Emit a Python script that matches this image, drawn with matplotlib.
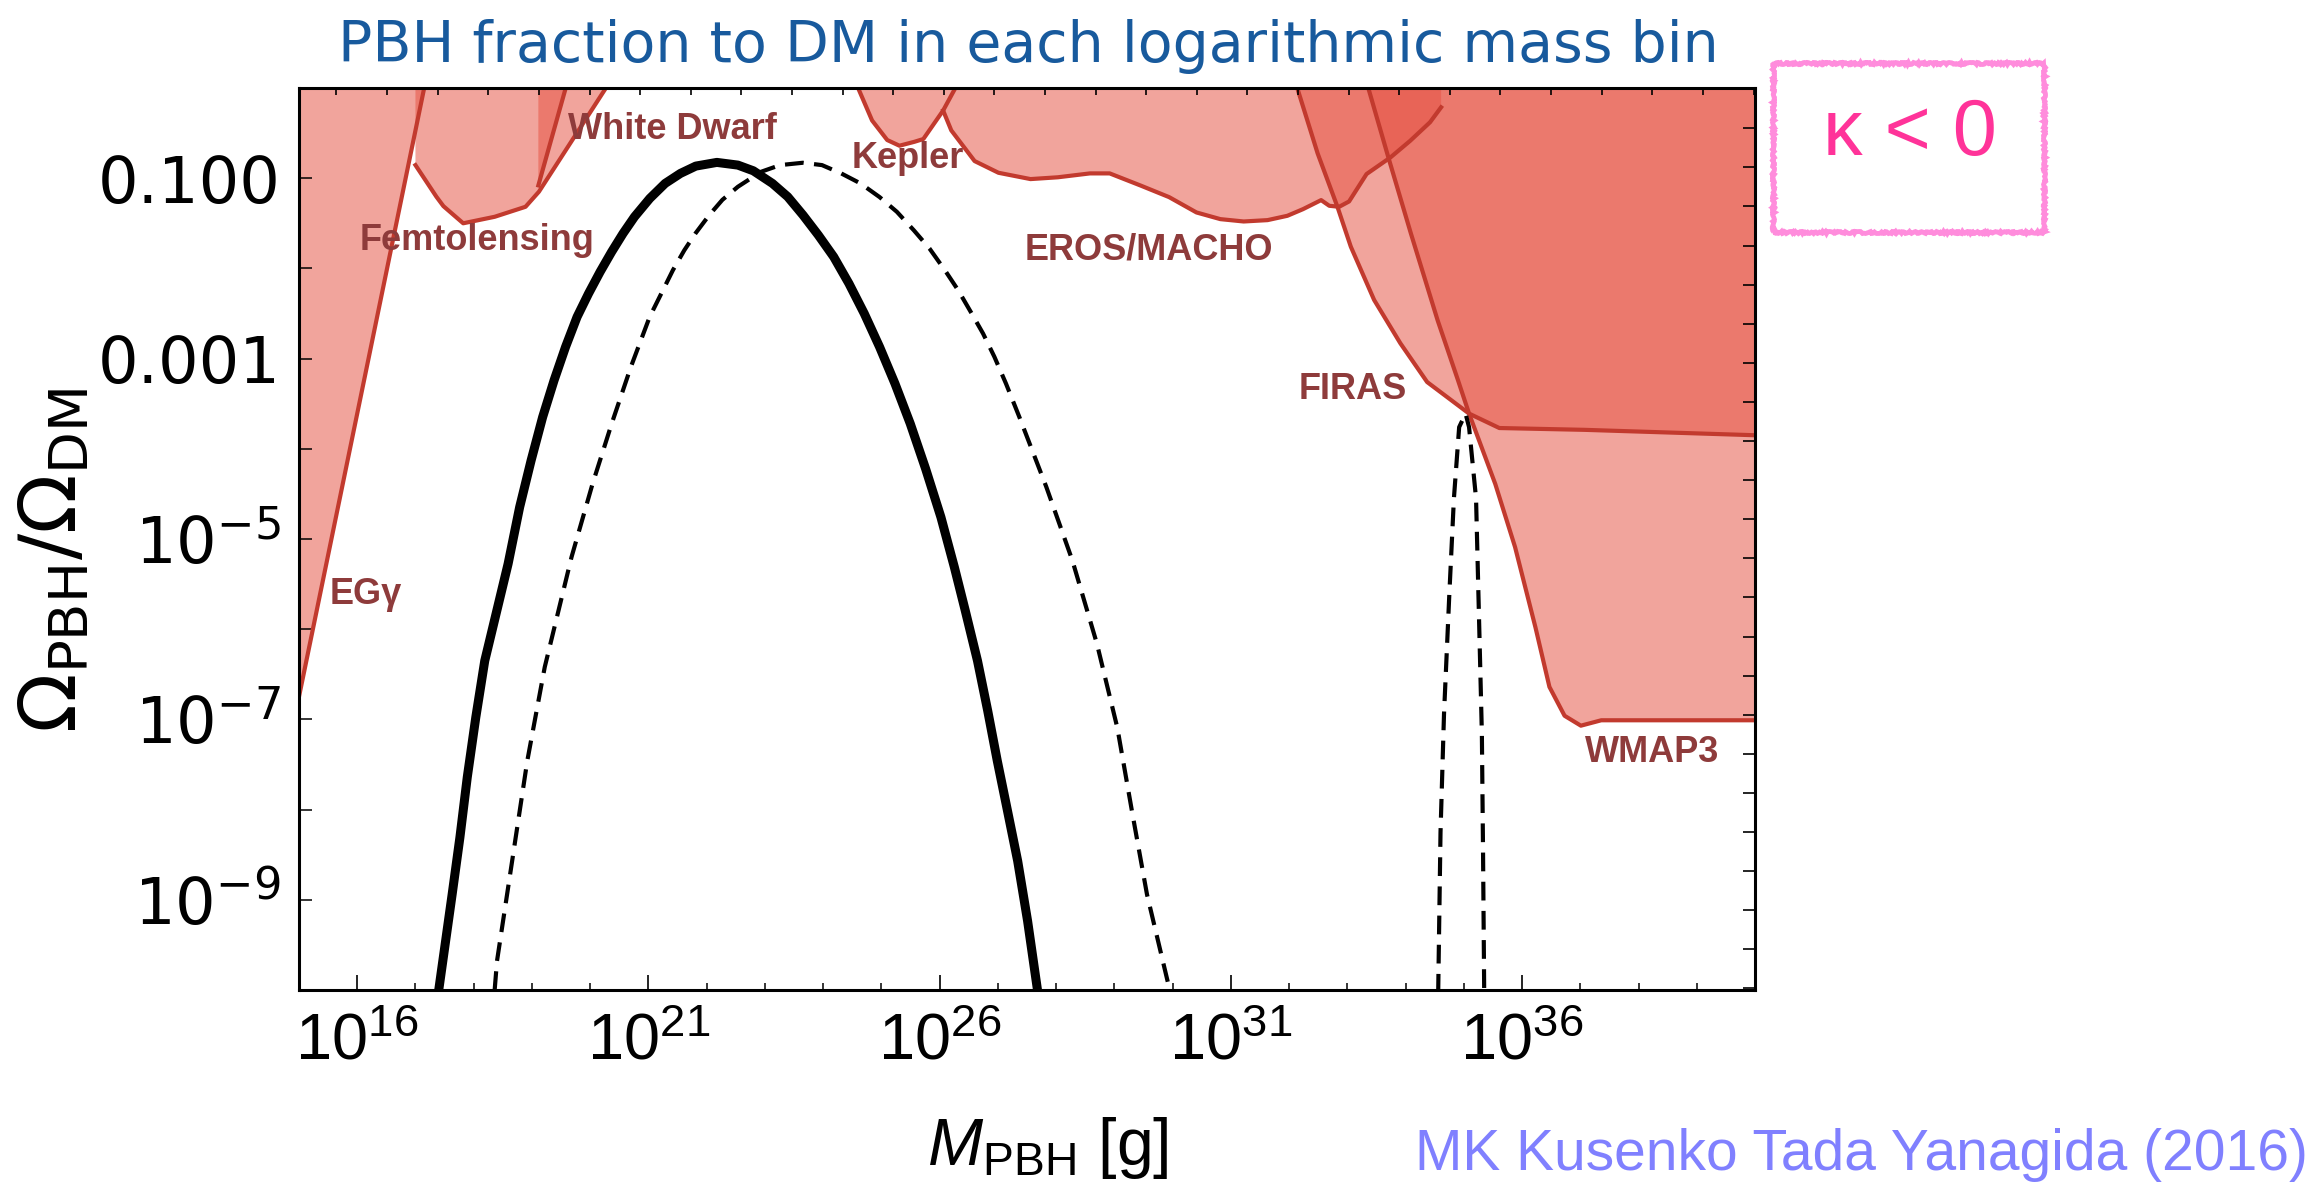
import numpy as np
import matplotlib
matplotlib.use('Agg')
import matplotlib.pyplot as plt
from matplotlib import font_manager
from matplotlib.patches import Rectangle
from matplotlib.ticker import NullFormatter

# all values are log10(M/g) and log10(Omega_PBH/Omega_DM)
solid_m = [17.40, 17.63, 17.763, 17.89, 18.036, 18.19, 18.591, 18.789, 18.986, 19.184, 19.380,
           19.577, 19.775, 19.972, 20.170, 20.368, 20.564, 20.761, 21.024, 21.287, 21.550, 21.813,
           22.175, 22.536, 22.801, 23.129, 23.392, 23.655, 23.918, 24.181, 24.443, 24.706, 24.969,
           25.233, 25.496, 25.759, 26.022, 26.253, 26.44, 26.65, 26.825, 26.99, 27.165, 27.34,
           27.51, 27.68]
solid_f = [-10.0, -8.94, -8.31, -7.64, -6.978, -6.35, -5.275, -4.647, -4.129, -3.648, -3.241,
           -2.871, -2.538, -2.279, -2.039, -1.817, -1.613, -1.428, -1.224, -1.058, -0.947, -0.866,
           -0.825, -0.855, -0.918, -1.058, -1.206, -1.410, -1.632, -1.872, -2.168, -2.501, -2.871,
           -3.277, -3.722, -4.221, -4.758, -5.313, -5.794, -6.35, -6.903, -7.46, -8.013, -8.57,
           -9.234, -10.0]

dash_m = [18.36, 18.40, 18.66, 18.92, 19.22, 19.68, 20.04, 20.37, 20.70, 21.02, 21.42, 21.617,
          21.81, 22.043, 22.27, 22.536, 22.93, 23.26, 23.65, 23.98, 24.31, 24.641, 24.97, 25.266,
          25.56, 25.825, 26.09, 26.318, 26.55, 26.746, 26.94, 27.139, 27.37, 27.83, 28.28, 28.70,
          29.05, 29.30, 29.56, 29.95]
dash_f = [-10.0, -9.68, -8.57, -7.46, -6.42, -5.2, -4.39, -3.72, -3.09, -2.54, -2.02, -1.798,
          -1.61, -1.41, -1.24, -1.095, -0.93, -0.855, -0.829, -0.855, -0.947, -1.058, -1.21, -1.373,
          -1.58, -1.779, -2.02, -2.242, -2.50, -2.723, -2.98, -3.277, -3.65, -4.42, -5.24, -6.16,
          -7.09, -8.01, -8.94, -10.0]

peak2_m = [34.56, 34.60, 34.66, 34.75, 34.83, 34.92, 35.03, 35.09, 35.21, 35.26, 35.31, 35.33, 35.35]
peak2_f = [-10.03, -8.25, -6.94, -5.63, -4.55, -3.76, -3.61, -3.76, -4.55, -5.85, -7.16, -8.46, -10.03]

# constraints (upper boundary of allowed region)
egg_m = [15.0, 17.15]
egg_f = [-6.75, 0.0]
femto_m = [17.00, 17.36, 17.48, 17.82, 18.36, 18.89, 19.12, 20.27]
femto_f = [-0.855, -1.206, -1.31, -1.50, -1.428, -1.317, -1.15, 0.0]
wd_m = [19.11, 19.58]
wd_f = [-1.08, 0.0]
kepler_m = [24.60, 24.84, 25.10, 25.31, 25.57, 25.72, 26.06, 26.27]
kepler_f = [0.0, -0.36, -0.577, -0.64, -0.596, -0.566, -0.25, 0.0]
eros_m = [26.06, 26.20, 26.60, 27.01, 27.56, 28.03, 28.58, 28.92, 29.46, 29.94, 30.41, 30.82,
          31.22, 31.63, 31.97, 32.24, 32.55, 32.69, 32.86, 33.03, 33.33, 33.74, 34.08, 34.42, 34.61]
eros_f = [-0.25, -0.47, -0.81, -0.94, -1.01, -0.99, -0.947, -0.947, -1.084, -1.21, -1.38, -1.454,
          -1.48, -1.465, -1.417, -1.343, -1.243, -1.306, -1.317, -1.258, -0.954, -0.77, -0.585, -0.38, -0.214]
firas_m = [32.14, 32.49, 32.83, 33.06, 33.46, 33.91, 34.37, 34.72, 35.09, 35.61, 37.07, 40.0]
firas_f = [0.0, -0.725, -1.317, -1.76, -2.35, -2.83, -3.26, -3.43, -3.61, -3.77, -3.79, -3.85]
wmap_m = [33.36, 33.70, 34.09, 34.55, 34.90, 35.09, 35.54, 35.88, 36.23, 36.47, 36.73, 37.01,
          37.36, 38.79, 40.0]
wmap_f = [0.0, -0.76, -1.61, -2.575, -3.24, -3.61, -4.39, -5.09, -5.98, -6.64, -6.96, -7.07,
          -7.01, -7.01, -7.01]

labels = ['EGγ', 'Femtolensing', 'White Dwarf', 'Kepler', 'EROS/MACHO', 'FIRAS', 'WMAP3']
label_m = [16.15, 18.06, 21.41, 25.45, 29.59, 33.09, 38.23]
label_f = [-5.62, -1.69, -0.455, -0.777, -1.80, -3.34, -7.37]

xtick_exp = [16, 21, 26, 31, 36]
ytick_exp = [-1, -3, -5, -7, -9]
ytick_lab = ['0.100', '0.001', r'$10^{-5}$', r'$10^{-7}$', r'$10^{-9}$']

names = {f.name for f in font_manager.fontManager.ttflist}
NARROW = 'Liberation Sans Narrow' in names
narrow = 'Liberation Sans Narrow' if NARROW else 'Liberation Sans'
k = 1.0 if NARROW else 0.9

plt.rcParams['mathtext.rm'] = narrow
plt.rcParams['mathtext.it'] = narrow + ':italic'
plt.rcParams['mathtext.bf'] = narrow + ':bold'


def p(a):
    return 10 ** np.asarray(a, dtype=float)


fig = plt.figure(figsize=(23.23, 11.89), dpi=100)
ax = fig.add_axes([0.1287, 0.1674, 0.6268, 0.7586])
ax.set_xscale('log')
ax.set_yscale('log')

fill_kw = dict(color='#e65344', alpha=0.53, lw=0, zorder=1)
edge_kw = dict(color='#c23a2e', lw=3, zorder=2, solid_joinstyle='round')

ax.fill(p(egg_m + [15.0]), p(egg_f + [0.0]), **fill_kw)
ax.fill(p(femto_m + [femto_m[0]]), p(femto_f + [0.0]), **fill_kw)
ax.fill(p(wd_m + [wd_m[0]]), p(wd_f + [0.0]), **fill_kw)
ax.fill(p(kepler_m), p(kepler_f), **fill_kw)
ax.fill(p(eros_m + [eros_m[-1], kepler_m[-1]]), p(eros_f + [0.0, 0.0]), **fill_kw)
ax.fill(p(firas_m + [firas_m[-1]]), p(firas_f + [0.0]), **fill_kw)
ax.fill(p(wmap_m + [wmap_m[-1]]), p(wmap_f + [0.0]), **fill_kw)

for m, f in [(egg_m, egg_f), (femto_m, femto_f), (wd_m, wd_f), (kepler_m, kepler_f),
             (eros_m, eros_f), (firas_m, firas_f), (wmap_m, wmap_f)]:
    ax.plot(p(m), p(f), **edge_kw)

ax.plot(p(solid_m), p(solid_f), color='black', lw=6.5, zorder=4,
        solid_capstyle='butt', solid_joinstyle='round')
ax.plot(p(dash_m), p(dash_f), color='black', lw=3, ls=(0, (4.5, 2.5)), zorder=4)
ax.plot(p(peak2_m), p(peak2_f), color='black', lw=3, ls=(0, (4.5, 2.5)), zorder=4)

for t, m, f in zip(labels, label_m, label_f):
    ax.text(p(m), p(f), t, color='#8e3b3b', fontsize=26, fontweight='bold',
            family='Liberation Sans', ha='center', va='center', zorder=5)

ax.set_xlim(1e15, 1e40)
ax.set_ylim(1e-10, 1)

ax.set_xticks(p(xtick_exp), labels=[r'$10^{%d}$' % e for e in xtick_exp],
              math_fontfamily='custom', fontsize=52 * k)
ax.set_xticks(p(np.arange(15, 41)), minor=True)
ax.set_yticks(p(ytick_exp), labels=ytick_lab, fontsize=46, math_fontfamily='dejavusans')
ax.set_yticks(p(np.arange(-10, 1, 2)), minor=True)
ax.xaxis.set_minor_formatter(NullFormatter())
ax.yaxis.set_minor_formatter(NullFormatter())
ax.tick_params(axis='x', which='major', direction='in', length=11, width=1.2, pad=14, top=False)
ax.tick_params(axis='x', which='minor', direction='in', length=5, width=1.1, top=False)
ax.tick_params(axis='y', which='both', direction='in', length=9.5, width=1.1, right=False, pad=13)
for s in ax.spines.values():
    s.set_linewidth(2.2)

# extra tick scales on the top and right frame
axt = ax.twiny()
axt.set_xlim(-0.741, 28.03)
axt.set_xticks(np.arange(0, 29))
axt.tick_params(axis='x', direction='in', length=5, width=1.2, labeltop=False)
axr = ax.twinx()
axr.set_ylim(23.04, -0.031)
axr.set_yticks(np.arange(0, 24))
axr.tick_params(axis='y', direction='in', length=8.6, width=1.2, labelright=False)
for a in (axt, axr):
    for s in a.spines.values():
        s.set_visible(False)

fig.text(0.4425, 0.9479, 'PBH fraction to DM in each logarithmic mass bin',
         color='#185a9d', fontsize=41, ha='center', va='baseline')
fig.text(0.0235, 0.529, r'$\Omega_{\rm PBH}/\Omega_{\rm DM}$', rotation=90, fontsize=56,
         ha='center', va='center', math_fontfamily='dejavusans')
fig.text(0.451, 0.020, r'$M_{\rm PBH}$ [g]', fontsize=53 * k, family=narrow,
         math_fontfamily='custom', ha='center', va='baseline')
fig.text(0.609, 0.016, 'MK Kusenko Tada Yanagida (2016)', color='#8080ff',
         fontsize=50 * (0.82 if not NARROW else 1.0), family=narrow, ha='left', va='baseline')

box = Rectangle((0.7632, 0.8051), 0.1167, 0.1417, transform=fig.transFigure,
                fill=False, ec='#ff8cdc', lw=3.5)
box.set_sketch_params(1.0, 4, 6)
fig.add_artist(box)
fig.text(0.822, 0.8873, 'κ < 0', color='#ff3399', fontsize=57, family='Liberation Sans',
         ha='center', va='center')

fig.savefig('out.png', dpi=100)
